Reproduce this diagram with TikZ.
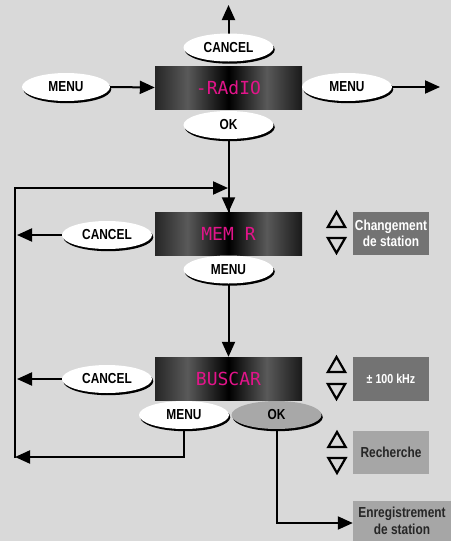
\documentclass[tikz,border=0pt]{standalone}
\usepackage{fontspec}
\setmainfont{Liberation Sans}[FakeStretch=0.82]
\newfontfamily\lcdfont{DejaVu Sans Mono}
\usetikzlibrary{shapes.geometric,arrows.meta,shadows}
\definecolor{bg}{HTML}{D9D9D9}
\definecolor{lcdpink}{RGB}{226,20,138}
\definecolor{darkbox}{HTML}{737373}
\definecolor{lightbox}{HTML}{A6A6A6}
\definecolor{graybtn}{HTML}{A8A8A8}
\pgfdeclarehorizontalshading{lcdshade}{100bp}{color(0bp)=(black!85!white); color(25bp)=(black!85!white); color(36bp)=(black!65!white); color(50bp)=(black); color(63bp)=(black!65!white); color(75bp)=(black!90!white); color(100bp)=(black!90!white)}
\begin{document}
\begin{tikzpicture}[x=1pt,y=-1pt,
  btn/.style={ellipse, fill=white, minimum width=90pt, minimum height=28pt, inner sep=0pt,
    font=\bfseries\fontsize{14.5}{14.5}\selectfont,
    drop shadow={shadow xshift=1.3pt, shadow yshift=-2.2pt, fill=black, opacity=1}},
  lcd/.style={rectangle, shade, shading=lcdshade, minimum width=147pt, minimum height=43pt, inner sep=0pt,
    font=\lcdfont\fontsize{18}{18}\selectfont, text=lcdpink},
  arr/.style={line width=2pt, -{Triangle[length=15pt,width=13pt]}},
  ln/.style={line width=2pt},
  infobox/.style={rectangle, inner sep=0pt, align=center, font=\bfseries\fontsize{14.5}{16.5}\selectfont},
  triup/.style={regular polygon, regular polygon sides=3, minimum size=20pt, inner sep=0pt, draw, line width=2.2pt},
  tridown/.style={triup, shape border rotate=180},
]
\fill[bg] (0,0) rectangle (451,541);
\useasboundingbox (0,0) rectangle (451,541);

% displays
\node[lcd] (d1) at (228.5,87.5) {-RAdIO};
\node[lcd] (d2) at (228.5,234) {MEM R};
\node[lcd] (d3) at (228.5,378.5) {BUSCAR};

% coordinates
\coordinate (top) at (228.5,5);
\coordinate (rt) at (440,87);
\coordinate (l2) at (17,235);
\coordinate (l3) at (17,379);
\coordinate (bl) at (15,457);
\coordinate (blc) at (15,458);
\coordinate (tl) at (15,188);
\coordinate (jn) at (228,188);

% connectors
\draw[arr] (228.5,60) -- (top);
\draw[ln] (228.5,120) -- (d2.north);
\draw[arr] (228.5,200) -- (d2.north);
\draw[arr] (228.5,265) -- (d3.north);

% buttons
\node[btn] (c1) at (228.5,47.5) {CANCEL};
\node[btn, minimum width=88pt] (m1) at (66,87) {MENU};
\node[btn] (m1r) at (347,87) {MENU};
\node[btn] (ok1) at (228.5,125) {OK};
\node[btn] (c2) at (107,235) {CANCEL};
\node[btn] (m2) at (228.5,269.5) {MENU};
\node[btn] (c3) at (107,379) {CANCEL};
\node[btn] (m3) at (184,415) {MENU};
\node[btn, fill=graybtn] (ok3) at (276.5,415) {OK};

\draw[arr] (m1.east) -- (d1.west);
\draw[arr] (m1r.east) -- (rt);
\draw[arr] (c2.west) -- (l2);
\draw[arr] (c3.west) -- (l3);
\draw[arr] (m3.south) |- (bl);
\draw[arr] (blc) -- (tl) -- (jn);

% info boxes
\node[infobox, fill=darkbox, text=white, minimum width=76pt, minimum height=43pt] (b1) at (391,233.5) {Changement\\de station};
\node[infobox, fill=darkbox, text=white, minimum width=76pt, minimum height=44pt, font=\bfseries\fontsize{13}{14}\selectfont] (b2) at (391,379) {± 100 kHz};
\node[infobox, fill=lightbox, text=black!85, minimum width=76pt, minimum height=43pt] (b3) at (391,452.5) {Recherche};
\node[infobox, fill=lightbox, text=black!85, minimum width=98pt, minimum height=40pt] (enr) at (402,521) {Enregistrement\\de station};

\draw[arr] (ok3.south) |- ([yshift=-2pt]enr.west);

% triangles
\node[triup] (t1u) at (336.5,222) {};
\node[tridown] (t1d) at (336.5,243) {};
\node[triup] (t2u) at (336.5,367) {};
\node[tridown] (t2d) at (336.5,389) {};
\node[triup] (t3u) at (337,442) {};
\node[tridown] (t3d) at (337,463) {};
\end{tikzpicture}
\end{document}
